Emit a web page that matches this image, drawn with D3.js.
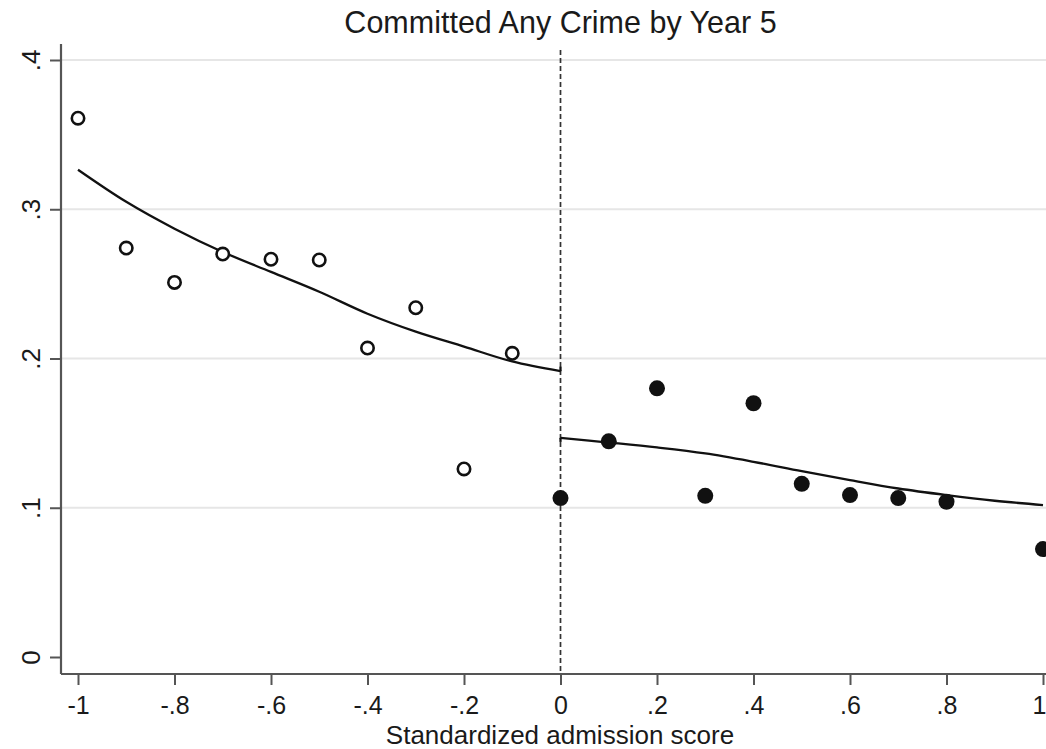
<!DOCTYPE html>
<html><head><meta charset="utf-8">
<script src="https://cdn.jsdelivr.net/npm/d3@7"></script>
<style>body{margin:0;background:#fff}svg{display:block}text{font-family:"Liberation Sans",Arial,sans-serif;fill:#1a1a1a}</style>
</head><body><svg id="c" width="1046" height="749"></svg>
<script>
const title = "Committed Any Crime by Year 5";
const xTitle = "Standardized admission score";
const xTicks = [-1,-0.8,-0.6,-0.4,-0.2,0,0.2,0.4,0.6,0.8,1];
const xTickLabels = ["-1","-.8","-.6","-.4","-.2","0",".2",".4",".6",".8","1"];
const yTicks = [0,0.1,0.2,0.3,0.4];
const yTickLabels = ["0",".1",".2",".3",".4"];
const leftX = [-1,-0.9,-0.8,-0.7,-0.6,-0.5,-0.4,-0.3,-0.2,-0.1];
const leftY = [0.361,0.274,0.251,0.270,0.2665,0.266,0.207,0.234,0.126,0.2035];
const rightX = [0,0.1,0.2,0.3,0.4,0.5,0.6,0.7,0.8,1.0];
const rightY = [0.1065,0.1445,0.180,0.108,0.170,0.116,0.1085,0.1065,0.104,0.0723];
const leftFitX = [-1,-0.9,-0.8,-0.7,-0.6,-0.5,-0.4,-0.3,-0.2,-0.1,0];
const leftFitY = [0.3265,0.305,0.287,0.2714,0.258,0.2447,0.230,0.218,0.208,0.198,0.1915];
const leftEndTick = [0.1915,0.1945];
const rightFitX = [0,0.1,0.2,0.3,0.4,0.5,0.6,0.7,0.8,0.9,1.0];
const rightFitY = [0.1468,0.1437,0.1404,0.1364,0.1308,0.1245,0.1185,0.1129,0.1085,0.1047,0.1018];
const rightStartTick = [0.1441,0.1468];

const svg = d3.select("#c");
const x = d3.scaleLinear().domain([-1,1]).range([78,1043]);
const y = d3.scaleLinear().domain([0,0.4]).range([657,60]);
const axisX = 61, axisY = 674;

// gridlines
svg.append("g").selectAll("line").data(yTicks.filter(d=>d>0)).join("line")
  .attr("x1",axisX).attr("x2",1046).attr("y1",d=>y(d)).attr("y2",d=>y(d))
  .attr("stroke","#e6e6e6").attr("stroke-width",2);

// dashed vertical at 0
svg.append("line").attr("x1",x(0)).attr("x2",x(0)).attr("y1",50).attr("y2",axisY)
  .attr("stroke","#333").attr("stroke-width",1.7).attr("stroke-dasharray","5,3");

// y axis
const ya = svg.append("g").attr("transform",`translate(${axisX},0)`)
  .call(d3.axisLeft(y).tickValues(yTicks).tickFormat((d,i)=>yTickLabels[i]).tickSize(11).tickPadding(9));
ya.select(".domain").attr("d",`M0,44V${axisY}`).attr("stroke","#555").attr("stroke-width",2.2);
ya.selectAll(".tick line").attr("stroke","#555").attr("stroke-width",2);
ya.selectAll(".tick text").attr("font-size",26).attr("fill","#1a1a1a")
  .attr("text-anchor","middle").attr("transform","rotate(-90)")
  .attr("x",0).attr("y",-21).attr("dy",0);

// x axis
const xa = svg.append("g").attr("transform",`translate(0,${axisY})`)
  .call(d3.axisBottom(x).tickValues(xTicks).tickFormat((d,i)=>xTickLabels[i]).tickSize(11).tickPadding(8));
xa.select(".domain").attr("d",`M${axisX},0H1046`).attr("stroke","#555").attr("stroke-width",2.2);
xa.selectAll(".tick line").attr("stroke","#555").attr("stroke-width",2);
xa.selectAll(".tick text").attr("font-size",25).attr("fill","#1a1a1a").attr("dy",0).attr("y",40)
  .attr("text-anchor",(d,i)=>i===xTicks.length-1?"end":"middle")
  .attr("x",(d,i)=>i===xTicks.length-1?3:0);

// fit lines
const line = d3.line().x(d=>x(d[0])).y(d=>y(d[1])).curve(d3.curveCatmullRom.alpha(0.5));
const seg = d3.line().x(d=>x(d[0])).y(d=>y(d[1]));
svg.append("path").datum(leftFitX.map((v,i)=>[v,leftFitY[i]])).attr("d",line)
  .attr("fill","none").attr("stroke","#111").attr("stroke-width",2.3);
svg.append("path").datum(leftEndTick.map(v=>[0,v])).attr("d",seg)
  .attr("fill","none").attr("stroke","#111").attr("stroke-width",2.3);
svg.append("path").datum(rightFitX.map((v,i)=>[v,rightFitY[i]])).attr("d",line)
  .attr("fill","none").attr("stroke","#111").attr("stroke-width",2.3);
svg.append("path").datum(rightStartTick.map(v=>[0,v])).attr("d",seg)
  .attr("fill","none").attr("stroke","#111").attr("stroke-width",2.3);

// points
svg.append("g").selectAll("circle").data(leftX.map((v,i)=>[v,leftY[i]])).join("circle")
  .attr("cx",d=>x(d[0])).attr("cy",d=>y(d[1])).attr("r",6.2)
  .attr("fill","#fff").attr("stroke","#111").attr("stroke-width",2.6);
svg.append("g").selectAll("circle").data(rightX.map((v,i)=>[v,rightY[i]])).join("circle")
  .attr("cx",d=>x(d[0])).attr("cy",d=>y(d[1])).attr("r",8).attr("fill","#111");

// titles
svg.append("text").attr("x",560.5).attr("y",33).attr("text-anchor","middle").attr("font-size",30.5).text(title);
svg.append("text").attr("x",560).attr("y",743.5).attr("text-anchor","middle").attr("font-size",26).text(xTitle);
</script></body></html>
